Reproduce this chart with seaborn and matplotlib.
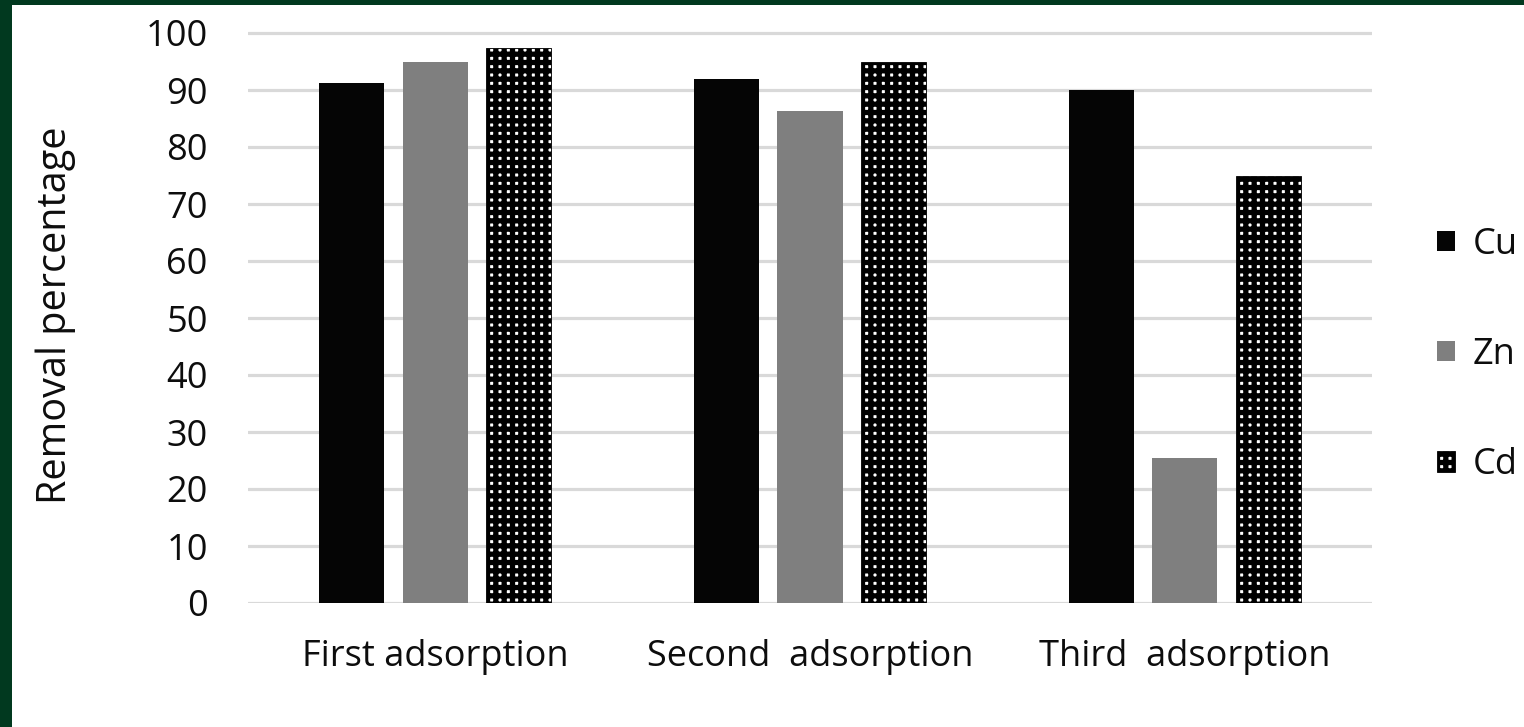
import matplotlib
matplotlib.use("Agg")
import matplotlib.pyplot as plt
from matplotlib.patches import Rectangle, Patch
import seaborn as sns
import pandas as pd

# Removal percentage per adsorption cycle
stages = ["First adsorption", "Second  adsorption", "Third  adsorption"]
metals = ["Cu", "Zn", "Cd"]
cu_values = [91.3, 92.0, 90.0]
zn_values = [94.9, 86.4, 25.5]
cd_values = [97.4, 95.0, 75.0]
y_ticks = [0, 10, 20, 30, 40, 50, 60, 70, 80, 90, 100]

records = []
for metal, vals in zip(metals, [cu_values, zn_values, cd_values]):
    for stage, v in zip(stages, vals):
        records.append({"stage": stage, "metal": metal, "value": v})
df = pd.DataFrame(records)

sns.set_theme(style="white")
plt.rcParams["font.family"] = ["Open Sans", "DejaVu Sans"]
plt.rcParams["hatch.linewidth"] = 3.8
plt.rcParams["hatch.color"] = "black"

W, H = 15.24, 7.27
fig = plt.figure(figsize=(W, H), dpi=100)
fig.patch.set_facecolor("white")

# Axes placement (pixel-based)
left, right = 248, 1372
y0_px, y100_px = 603, 33
ppu = (y0_px - y100_px) / 100.0
ymax = 101
top_px = y0_px - ppu * ymax
ax = fig.add_axes([left / 1524, 1 - y0_px / 727, (right - left) / 1524, (y0_px - top_px) / 727])

palette = {"Cu": "#050505", "Zn": "#7f7f7f", "Cd": "#ffffff"}
sns.barplot(data=df, x="stage", y="value", hue="metal", order=stages, hue_order=metals,
            palette=palette, width=0.669, gap=0.222, saturation=1, errorbar=None,
            edgecolor="none", linewidth=0, legend=False, ax=ax)

for bar in ax.containers[2]:
    bar.set_hatch("++")
    bar.set_edgecolor("black")
    bar.set_linewidth(0.6)

ax.set_xlim(-0.5, 2.5)
ax.set_ylim(0, ymax)
ax.set_yticks(y_ticks)
ax.yaxis.grid(True, color="#d9d9d9", linewidth=2.3)
ax.set_axisbelow(True)
for s in ax.spines.values():
    s.set_visible(False)
ax.tick_params(axis="y", length=0, pad=29, labelsize=26, labelcolor="#0d0d0d")
ax.tick_params(axis="x", length=0, pad=26, labelsize=26, labelcolor="#0d0d0d")
ax.set_xlabel("")
ax.set_ylabel("Removal percentage", fontsize=28.5, color="#0d0d0d", labelpad=50)

handles = [Patch(facecolor="#050505", edgecolor="none"),
           Patch(facecolor="#7f7f7f", edgecolor="none"),
           Patch(facecolor="white", edgecolor="black", hatch="++", linewidth=0.6)]
fig.legend(handles, metals, loc="center left", bbox_to_anchor=(1437 / 1524, 1 - 355 / 727),
           frameon=False, fontsize=26, handlelength=0.5, handleheight=0.5,
           handletextpad=0.5, labelspacing=2.05, borderpad=0, borderaxespad=0,
           labelcolor="#0d0d0d")

# Dark green frame along the left and top edges
green = "#01391f"
fig.patches.append(Rectangle((0, 0), 12 / 1524, 1, transform=fig.transFigure,
                             facecolor=green, edgecolor="none", zorder=10))
fig.patches.append(Rectangle((0, 1 - 5 / 727), 1, 5 / 727, transform=fig.transFigure,
                             facecolor=green, edgecolor="none", zorder=10))

fig.savefig("out.png", dpi=100)
